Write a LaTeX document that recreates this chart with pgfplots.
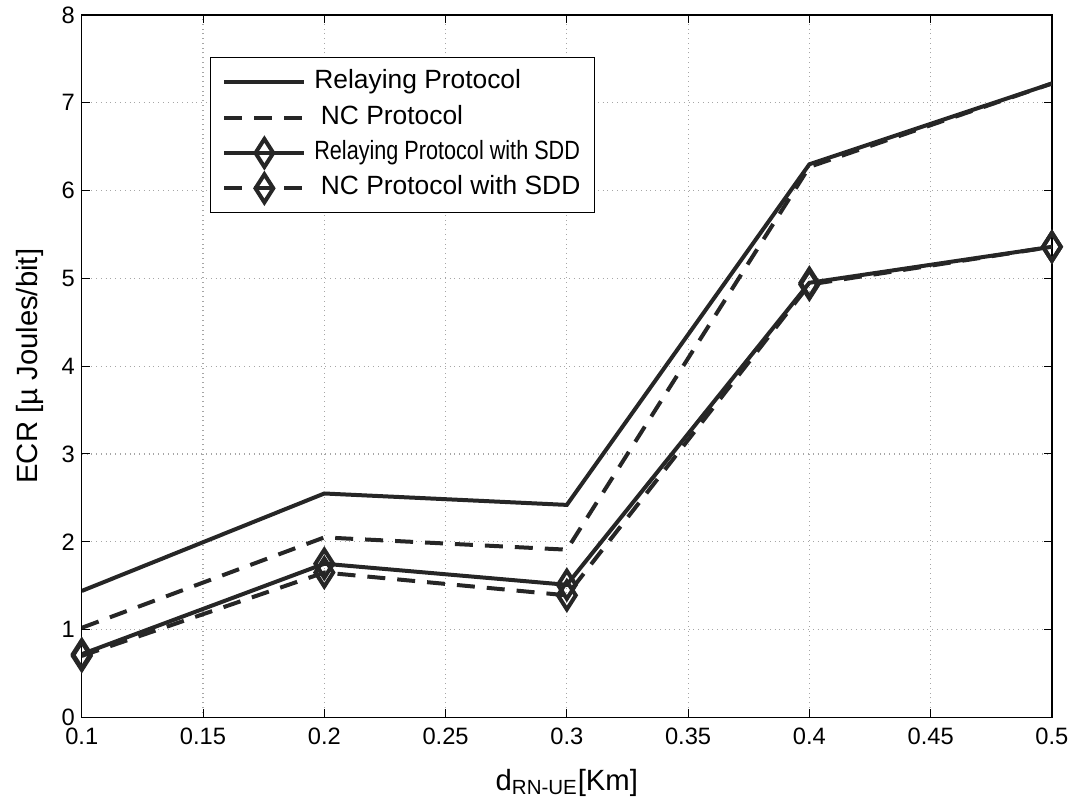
\documentclass[border=0pt]{standalone}
\usepackage{fontspec}
\setmainfont{Liberation Sans}
\usepackage{graphicx}
\usepackage{pgfplots}
\pgfplotsset{compat=1.18}
\begin{document}
\begin{tikzpicture}
\begin{axis}[
  scale only axis,
  width=485.5bp, height=351.5bp,
  xmin=0.1, xmax=0.5, ymin=0, ymax=8,
  xtick={0.1,0.15,0.2,0.25,0.3,0.35,0.4,0.45,0.5},
  ytick={0,1,2,3,4,5,6,7,8},
  /pgf/number format/assume math mode=true,
  /pgf/number format/fixed,
  xticklabel style={font=\fontsize{11.9}{14}\selectfont, yshift=-2bp},
  yticklabel style={font=\fontsize{11.9}{14}\selectfont},
  tick align=inside,
  tick style={black, line width=0.5pt},
  major tick length=4bp,
  axis line style={black, line width=0.6pt},
  grid=major,
  grid style={gray!70, dotted, line width=0.6pt},
  xlabel={d\textsubscript{RN-UE}[Km]},
  ylabel={ECR [µ Joules/bit]},
  label style={font=\fontsize{14.7}{16}\selectfont},
  xlabel style={yshift=-5bp},
  ylabel style={yshift=2bp},
  legend style={at={(0.132,0.94)}, anchor=north west, draw=black, line width=0.6pt,
    font=\fontsize{13.25}{15}\selectfont, row sep=3.2bp, column sep=3bp,
    inner xsep=6bp, inner ysep=5bp,
    nodes={inner sep=1bp, text height=9.5bp, text depth=3bp}},
  legend cell align=left,
  legend image code/.code={\draw[mark repeat=2,mark phase=2,#1] plot coordinates {(0bp,0bp) (20bp,0bp) (40bp,0bp)};},
]
\addplot[black!85, line width=2bp] coordinates {(0.1,1.44) (0.2,2.55) (0.3,2.42) (0.4,6.30) (0.5,7.22)};
\addlegendentry{Relaying Protocol}
\addplot[black!85, line width=2bp, dash pattern=on 9bp off 6bp] coordinates {(0.1,1.02) (0.2,2.05) (0.3,1.91) (0.4,6.27) (0.5,7.22)};
\addlegendentry{\hspace{0.25em}NC Protocol}
\addplot[black!85, line width=2bp, mark=diamond, mark size=7bp, mark options={solid, fill=white, line width=2bp, xscale=0.85}] coordinates {(0.1,0.72) (0.2,1.75) (0.3,1.51) (0.4,4.95) (0.5,5.36)};
\addlegendentry{\scalebox{0.82}[1]{Relaying Protocol with SDD}}
\addplot[black!85, line width=2bp, dash pattern=on 9bp off 6bp, mark=diamond, mark size=7bp, mark options={solid, fill=white, line width=2bp, xscale=0.85}] coordinates {(0.1,0.70) (0.2,1.65) (0.3,1.39) (0.4,4.93) (0.5,5.36)};
\addlegendentry{\hspace{0.25em}NC Protocol with SDD}
\end{axis}
\path (current bounding box.west) ++(-5bp,0) coordinate (padL);
\end{tikzpicture}
\end{document}
